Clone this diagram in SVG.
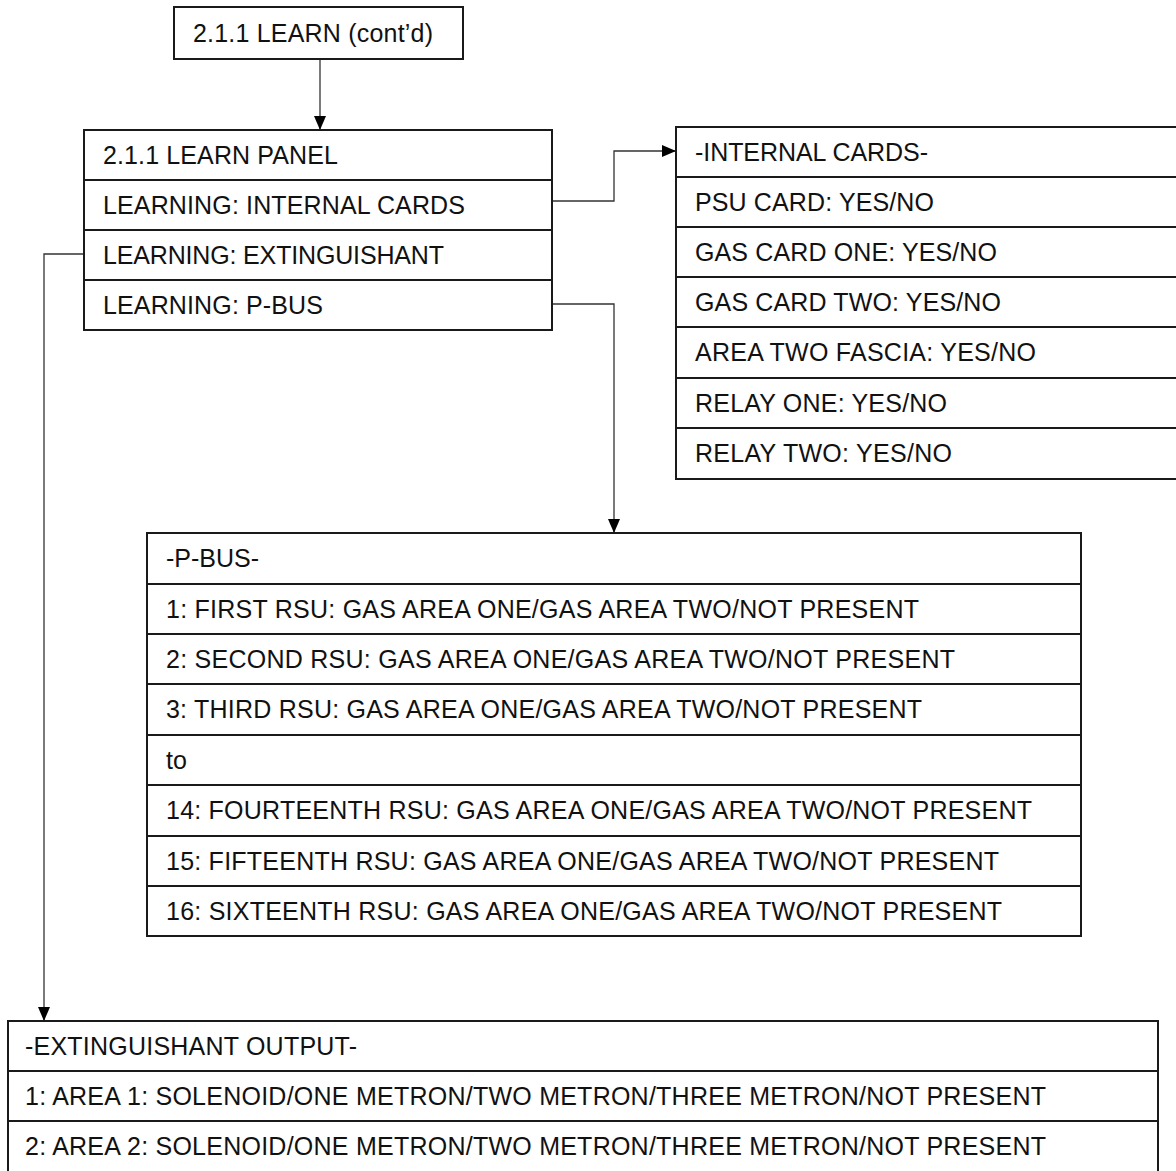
<svg xmlns="http://www.w3.org/2000/svg" width="1176" height="1171" viewBox="0 0 1176 1171">
<defs>
<marker id="arr" markerWidth="14" markerHeight="12" refX="14" refY="6" orient="auto" markerUnits="userSpaceOnUse">
<path d="M0,0 L14,6 L0,12 Z" fill="#000"/>
</marker>
<style>
.box{fill:#fff;stroke:#1a1a1a;stroke-width:2}
.div{stroke:#1a1a1a;stroke-width:2}
.t{font-family:"Liberation Sans",Arial,sans-serif;font-size:25px;fill:#111}
.c{fill:none;stroke:#333;stroke-width:1.3}
</style>
</defs>
<rect width="1176" height="1171" fill="#fff"/>
<g id="connectors">
<path class="c" d="M320,59 V130" marker-end="url(#arr)"/>
<path class="c" d="M552,201 H614 V151 H676" marker-end="url(#arr)"/>
<path class="c" d="M552,304 H614 V533" marker-end="url(#arr)"/>
<path class="c" d="M84,254 H44 V1021" marker-end="url(#arr)"/>
</g>
<g id="learn-contd">
<rect class="box" x="174" y="7" width="289" height="52"/>
<text class="t" x="193" y="42" textLength="240" lengthAdjust="spacing">2.1.1 LEARN (cont’d)</text>
</g>
<g id="learn-panel">
<rect class="box" x="84" y="130" width="468" height="200"/>
<line class="div" x1="84" y1="180" x2="552" y2="180"/>
<line class="div" x1="84" y1="230" x2="552" y2="230"/>
<line class="div" x1="84" y1="280" x2="552" y2="280"/>
<text class="t" x="103" y="164" textLength="235" lengthAdjust="spacing">2.1.1 LEARN PANEL</text>
<text class="t" x="103" y="214" textLength="362" lengthAdjust="spacing">LEARNING: INTERNAL CARDS</text>
<text class="t" x="103" y="264" textLength="341" lengthAdjust="spacing">LEARNING: EXTINGUISHANT</text>
<text class="t" x="103" y="314" textLength="220" lengthAdjust="spacing">LEARNING: P-BUS</text>
</g>
<g id="internal-cards">
<rect class="box" x="676" y="127" width="510" height="352"/>
<line class="div" x1="676" y1="177" x2="1176" y2="177"/>
<line class="div" x1="676" y1="227" x2="1176" y2="227"/>
<line class="div" x1="676" y1="277" x2="1176" y2="277"/>
<line class="div" x1="676" y1="327" x2="1176" y2="327"/>
<line class="div" x1="676" y1="378" x2="1176" y2="378"/>
<line class="div" x1="676" y1="428" x2="1176" y2="428"/>
<text class="t" x="695" y="161" textLength="233" lengthAdjust="spacing">-INTERNAL CARDS-</text>
<text class="t" x="695" y="211" textLength="239" lengthAdjust="spacing">PSU CARD: YES/NO</text>
<text class="t" x="695" y="261" textLength="302" lengthAdjust="spacing">GAS CARD ONE: YES/NO</text>
<text class="t" x="695" y="311" textLength="306" lengthAdjust="spacing">GAS CARD TWO: YES/NO</text>
<text class="t" x="695" y="361" textLength="341" lengthAdjust="spacing">AREA TWO FASCIA: YES/NO</text>
<text class="t" x="695" y="412" textLength="252" lengthAdjust="spacing">RELAY ONE: YES/NO</text>
<text class="t" x="695" y="462" textLength="257" lengthAdjust="spacing">RELAY TWO: YES/NO</text>
</g>
<g id="p-bus">
<rect class="box" x="147" y="533" width="934" height="403"/>
<line class="div" x1="147" y1="584" x2="1081" y2="584"/>
<line class="div" x1="147" y1="634" x2="1081" y2="634"/>
<line class="div" x1="147" y1="684" x2="1081" y2="684"/>
<line class="div" x1="147" y1="735" x2="1081" y2="735"/>
<line class="div" x1="147" y1="785" x2="1081" y2="785"/>
<line class="div" x1="147" y1="836" x2="1081" y2="836"/>
<line class="div" x1="147" y1="886" x2="1081" y2="886"/>
<text class="t" x="166" y="567" textLength="93" lengthAdjust="spacing">-P-BUS-</text>
<text class="t" x="166" y="618" textLength="753" lengthAdjust="spacing">1: FIRST RSU: GAS AREA ONE/GAS AREA TWO/NOT PRESENT</text>
<text class="t" x="166" y="668" textLength="789" lengthAdjust="spacing">2: SECOND RSU: GAS AREA ONE/GAS AREA TWO/NOT PRESENT</text>
<text class="t" x="166" y="718" textLength="756" lengthAdjust="spacing">3: THIRD RSU: GAS AREA ONE/GAS AREA TWO/NOT PRESENT</text>
<text class="t" x="166" y="769">to</text>
<text class="t" x="166" y="819" textLength="866" lengthAdjust="spacing">14: FOURTEENTH RSU: GAS AREA ONE/GAS AREA TWO/NOT PRESENT</text>
<text class="t" x="166" y="870" textLength="833" lengthAdjust="spacing">15: FIFTEENTH RSU: GAS AREA ONE/GAS AREA TWO/NOT PRESENT</text>
<text class="t" x="166" y="920" textLength="836" lengthAdjust="spacing">16: SIXTEENTH RSU: GAS AREA ONE/GAS AREA TWO/NOT PRESENT</text>
</g>
<g id="extinguishant-output">
<rect class="box" x="8" y="1021" width="1150" height="170"/>
<line class="div" x1="8" y1="1071" x2="1158" y2="1071"/>
<line class="div" x1="8" y1="1121" x2="1158" y2="1121"/>
<text class="t" x="25" y="1055" textLength="332" lengthAdjust="spacing">-EXTINGUISHANT OUTPUT-</text>
<text class="t" x="25" y="1105" textLength="1021" lengthAdjust="spacing">1: AREA 1: SOLENOID/ONE METRON/TWO METRON/THREE METRON/NOT PRESENT</text>
<text class="t" x="25" y="1155" textLength="1021" lengthAdjust="spacing">2: AREA 2: SOLENOID/ONE METRON/TWO METRON/THREE METRON/NOT PRESENT</text>
</g>
</svg>
